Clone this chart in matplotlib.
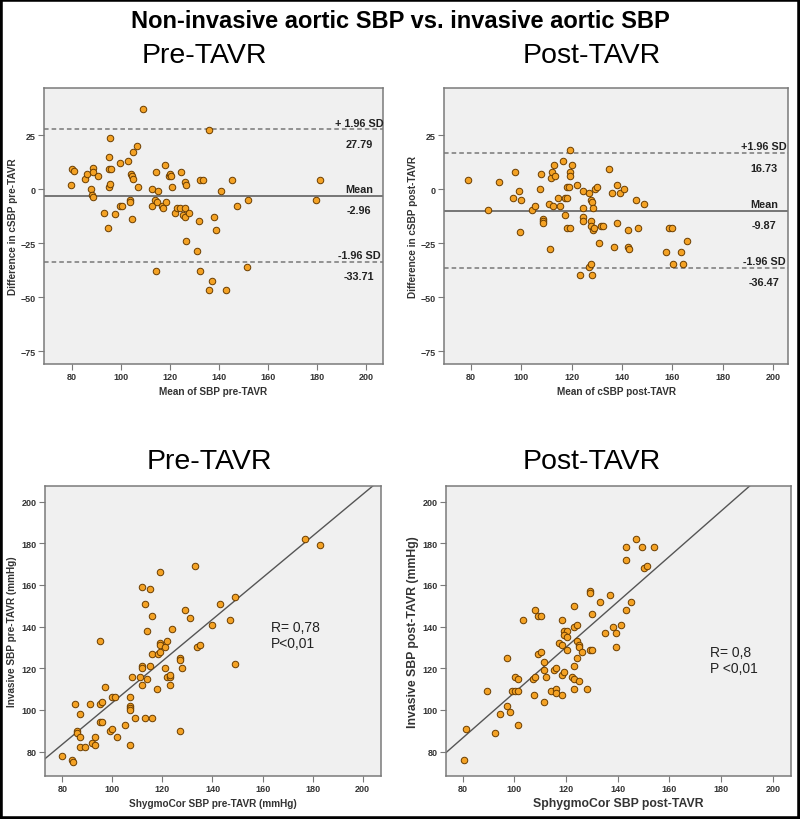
import numpy as np
import matplotlib.pyplot as plt
from matplotlib.patches import Rectangle

plt.rcParams.update({
    'font.family': ['Liberation Sans Narrow', 'Liberation Sans', 'DejaVu Sans'],
    'axes.edgecolor': '#7a7a7a',
    'axes.linewidth': 1.1,
    'xtick.color': '#7a7a7a',
    'ytick.color': '#7a7a7a',
    'xtick.labelcolor': '#333333',
    'ytick.labelcolor': '#333333',
})

# Bland-Altman, pre-TAVR
pre_ba_mean = [79.7, 80, 80.7, 85.2, 86, 87.6, 88, 88.5, 88.7, 88.7, 90.7, 93.2, 94.7, 95, 95.5,
               95.2, 96, 95.2, 95.7, 97.6, 99.5, 99.5, 100.6, 103, 103.6, 103.7, 104, 104.6, 105,
               104.5, 105, 106.6, 107, 109, 112.6, 112.6, 114, 114.5, 115, 114.5, 114.7, 116.7,
               117, 118, 118.5, 119.6, 120, 120.6, 121, 122, 123, 124, 124.5, 125.5, 126, 126,
               126, 126.6, 126.6, 127.9, 131, 132, 132.4, 133.4, 132.4, 136, 136, 137, 138, 139,
               141, 143, 145.4, 147.5, 151.8, 151.4, 179.8, 181.3]
pre_ba_diff = [2.2, 9.4, 8.3, 5, 7, 0, -2.6, -3.5, 10, 8, 6, -11, -18, 15, 24,
               9.4, 9.4, 1, 2.5, -11.6, 12, -7.7, -7.7, 13, -4.8, -5.7, 7, 6, 5,
               -13.7, 17.3, 20.2, 1.2, 37.2, 0.3, -7.7, -4.8, 8.2, -0.8, -37.8, -5.7, -7.7,
               -8.8, 11.3, -5.7, 6, 7, 6, 1.2, -10.8, -8.8, -8.8, 8.2, -11.9, -8.8, -12.8,
               3.2, 2.2, -23.8, -10.8, -28.7, -14.8, 4.2, 4.2, -37.8, 27.3, -46.8, -42.7, -12.8, -18.8,
               -0.8, -46.8, 4.2, -7.7, -4.8, -35.8, -4.8, 4.2]
pre_bias, pre_upper, pre_lower = -2.96, 27.79, -33.71

# Bland-Altman, post-TAVR
post_ba_mean = [79, 86.8, 91, 97.6, 96.6, 99, 100, 99.6, 104.4, 105.5, 107.5, 108, 108.5, 108.5,
                108.5, 111, 111.7, 112.4, 112.5, 113, 113.4, 111.6, 114.5, 115.4, 116.7, 117.3,
                117.3, 118, 118.3, 119, 118.3, 119.3, 119.4, 119.4, 119.4, 120, 122.3, 123.4,
                124.7, 124.7, 124.7, 124.7, 127, 127.6, 128, 128.7, 127.6, 127.6, 128.7, 129,
                127, 127.6, 128, 129.5, 130, 130.8, 131.6, 132.6, 134.8, 136.2, 136.8, 138.2,
                138.2, 139.2, 141, 142.6, 142.6, 143, 145.5, 146.2, 148.6, 157.5, 158.9, 160,
                160.4, 163.4, 164.3, 165.8]
post_ba_diff = [4.2, -9.7, 3.2, 8.2, -3.9, -0.8, -4.8, -19.8, -9.7, -7.7, 0.3, 7.1, -13.7, -14.8,
                -15.7, -6.8, 5.2, 8.2, -7.7, 11.3, 6.2, -27.8, -3.9, -7.7, 13.3, -11.7,
                -3.9, 1.2, -3.9, 1.2, -17.7, -17.7, 18.2, 8.2, 6.2, 11.3, 2.2, -39.8,
                -0.8, -8.8, -12.8, -14.8, -1.9, -4.8, -5.9, -8.8, -14.8, -16.8, -18.8, -17.7,
                -35.8, -34.7, -39.8, 0, 1.2, -24.8, -16.8, -16.8, 9.3, -1.9, -26.8, 2.2,
                -15.7, -1.9, 0.3, -18.8, -26.8, -27.8, -4.8, -17.7, -6.8, -28.9, -17.7, -17.7,
                -34.7, -28.9, -34.7, -23.8]
post_bias, post_upper, post_lower = -9.87, 16.73, -36.47

# Correlation, pre-TAVR
pre_sphyg = [80, 84, 84.1, 85, 86, 86, 87, 87, 87, 89, 91, 92, 93, 93, 95, 95, 96, 95, 96, 97,
             99, 100, 100, 101, 102, 105, 107, 107, 107, 107, 107, 108, 109, 111, 112, 112, 112,
             112, 113, 113, 114, 114, 115, 115, 116, 116, 116, 118, 118.4, 119, 119, 119, 119,
             121, 121, 122, 122, 123, 123, 123, 124, 127, 127, 127, 128, 129, 131, 133, 134, 135,
             140, 143, 147, 149, 149, 177, 183]
pre_invasive = [78, 76, 75, 103, 90, 89, 98, 87, 82, 82, 103, 84, 87, 83, 133, 103, 104, 94, 94, 111,
                90, 91, 106, 106, 87, 93, 106, 102, 101, 100, 83, 116, 96, 116, 112, 121, 120,
                159, 151, 96, 115, 138, 158, 121, 145, 127, 96, 110, 127, 128, 132, 131, 166,
                130, 120, 133, 116, 116, 117, 112, 139, 125, 124, 90, 120, 148, 144, 169, 130, 131,
                141, 151, 143, 154, 122, 182, 179]
pre_slope, pre_icpt = 1.0, 3.5

# Correlation, post-TAVR
post_sphyg = [80.4, 81.3, 89.3, 92.4, 94.3, 97.3, 97.3, 98.3, 99.3, 100.4, 100.4, 101.4, 101.4,
              101.4, 103.3, 107.2, 107.5, 108.2, 108.2, 109.3, 110.3, 109.3, 110.3, 111.3, 111.3,
              111.3, 112.2, 114.3, 115.2, 116.2, 116.2, 116.2, 117.3, 118.3, 118.3, 118.3, 118.3,
              119.2, 120.2, 119.2, 119.2, 120.2, 120.2, 122.2, 123.2, 123.2, 124.2, 123.2, 123.2,
              123.2, 124.2, 124.2, 125.1, 125.1, 125.1, 126.1, 128.2, 129.2, 129.2, 129.2, 130.2,
              130.2, 133.2, 135.2, 137.2, 138.1, 139.2, 139.2, 141.2, 143.2, 143.2, 143.2, 145.2,
              147.2, 149.2, 150.2, 151.2, 154.2]
post_invasive = [76, 91, 109, 89, 98, 125, 102, 99, 109, 109, 116, 115, 109,
                 93, 143, 115, 107, 148, 116, 127, 128, 145, 145, 123, 119,
                 104, 116, 109, 119, 120, 110, 108, 132, 143, 131, 117, 107,
                 138, 138, 136, 118, 135, 129, 116, 150, 140, 141, 121, 115,
                 110, 133, 125, 131, 130, 114, 128, 110, 157, 156, 129, 129,
                 146, 152, 137, 155, 140, 137, 130, 141, 148, 178, 172, 152,
                 182, 178, 168, 169, 178]
post_slope, post_icpt = 1.09, -0.7

W, H = 800, 820
fig = plt.figure(figsize=(W / 100, H / 100), dpi=100)

POINT = dict(s=22, facecolor='#f4a224', edgecolor='#6b3d00', linewidth=0.7, zorder=3)


def px_axes(x0, y0, x1, y1):
    return fig.add_axes([x0 / W, 1 - y1 / H, (x1 - x0) / W, (y1 - y0) / H])


def style(ax, xlabel, ylabel, ylab_x, lab_size=7.2, lab_weight='bold'):
    ax.set_facecolor('#f0f0f0')
    ax.set_xticks(range(80, 201, 20))
    ax.tick_params(length=4, width=0.8, pad=2)
    for lab in ax.get_xticklabels() + ax.get_yticklabels():
        lab.set_fontsize(6.5)
        lab.set_fontweight('bold')
    ax.set_xlabel(xlabel, fontsize=lab_size, fontweight=lab_weight, color='#333333', va='center')
    ax.set_ylabel(ylabel, fontsize=lab_size, fontweight=lab_weight, color='#333333', va='center')
    h = ax.get_position().height * H
    w = ax.get_position().width * W
    ax.xaxis.set_label_coords(0.5, -27.5 / h)
    ax.yaxis.set_label_coords(-ylab_x / w, 0.5)


def bland_altman(ax, mean, diff, bias, upper, lower, up_label, xlabel, ylabel, xlim):
    ax.scatter(mean, diff, **POINT)
    ax.axhline(upper, color='#777777', lw=1.1, ls=(0, (3, 2)), zorder=2)
    ax.axhline(lower, color='#777777', lw=1.1, ls=(0, (3, 2)), zorder=2)
    ax.axhline(bias, color='#606060', lw=1.2, zorder=2)
    tr = ax.get_yaxis_transform()
    for y, top, bottom in [(upper, up_label, f'{upper:.2f}'),
                           (bias, 'Mean', f'{bias:.2f}'),
                           (lower, '-1.96 SD', f'{lower:.2f}')]:
        ax.text(0.93, y + 3.2, top, transform=tr, ha='center', va='center',
                fontsize=7.8, fontweight='bold', color='#222222')
        ax.text(0.93, y - 6.6, bottom, transform=tr, ha='center', va='center',
                fontsize=7.8, fontweight='bold', color='#222222')
    ax.set_xlim(*xlim)
    ax.set_ylim(-81, 47)
    ax.set_yticks([25, 0, -25, -50, -75])
    style(ax, xlabel, ylabel, 31)


def correlation(ax, x, y, slope, icpt, r_txt, p_txt, txt_xy, xlabel, ylabel, xlim, lab_size):
    ax.scatter(x, y, **POINT)
    ax.axline((0, icpt), slope=slope, color='#555555', lw=1.0, zorder=2)
    ax.text(txt_xy[0], txt_xy[1], r_txt, fontsize=10, color='#222222', va='center')
    ax.text(txt_xy[0], txt_xy[1] - 7.8, p_txt, fontsize=10, color='#222222', va='center')
    ax.set_xlim(*xlim)
    ax.set_ylim(68.3, 207.5)
    ax.set_yticks(range(80, 201, 20))
    style(ax, xlabel, ylabel, 33, lab_size=lab_size)


ax1 = px_axes(44, 89, 383, 365)
bland_altman(ax1, pre_ba_mean, pre_ba_diff, pre_bias, pre_upper, pre_lower, '+ 1.96 SD',
             'Mean of SBP pre-TAVR', 'Difference in cSBP pre-TAVR', (68.6, 207))

ax2 = px_axes(444, 89, 788, 365)
bland_altman(ax2, post_ba_mean, post_ba_diff, post_bias, post_upper, post_lower, '+1.96 SD',
             'Mean of cSBP post-TAVR', 'Difference in cSBP post-TAVR', (69.3, 206))

ax3 = px_axes(45, 487, 381, 777)
correlation(ax3, pre_sphyg, pre_invasive, pre_slope, pre_icpt, 'R= 0,78', 'P<0,01', (163.5, 139.8),
            'ShygmoCor SBP pre-TAVR (mmHg)', 'Invasive SBP pre-TAVR (mmHg)', (73.1, 207.3), 7.2)

ax4 = px_axes(446, 487, 791, 777)
correlation(ax4, post_sphyg, post_invasive, post_slope, post_icpt, 'R= 0,8', 'P <0,01', (175.8, 127.7),
            'SphygmoCor SBP post-TAVR', 'Invasive SBP post-TAVR (mmHg)', (73.6, 207), 8.8)

fig.text(0.5, 1 - 22 / H, 'Non-invasive aortic SBP vs. invasive aortic SBP',
         ha='center', va='center', fontsize=17, fontweight='bold')
for x, y, t in [(204, 56, 'Pre-TAVR'), (592, 56, 'Post-TAVR'),
                (209, 462, 'Pre-TAVR'), (592, 462, 'Post-TAVR')]:
    fig.text(x / W, 1 - y / H, t, ha='center', va='center', fontsize=20.5)

fig.add_artist(Rectangle((0, 0), 1, 1, transform=fig.transFigure, fill=False,
                         lw=4, edgecolor='black'))

fig.savefig('out.png', dpi=100)
